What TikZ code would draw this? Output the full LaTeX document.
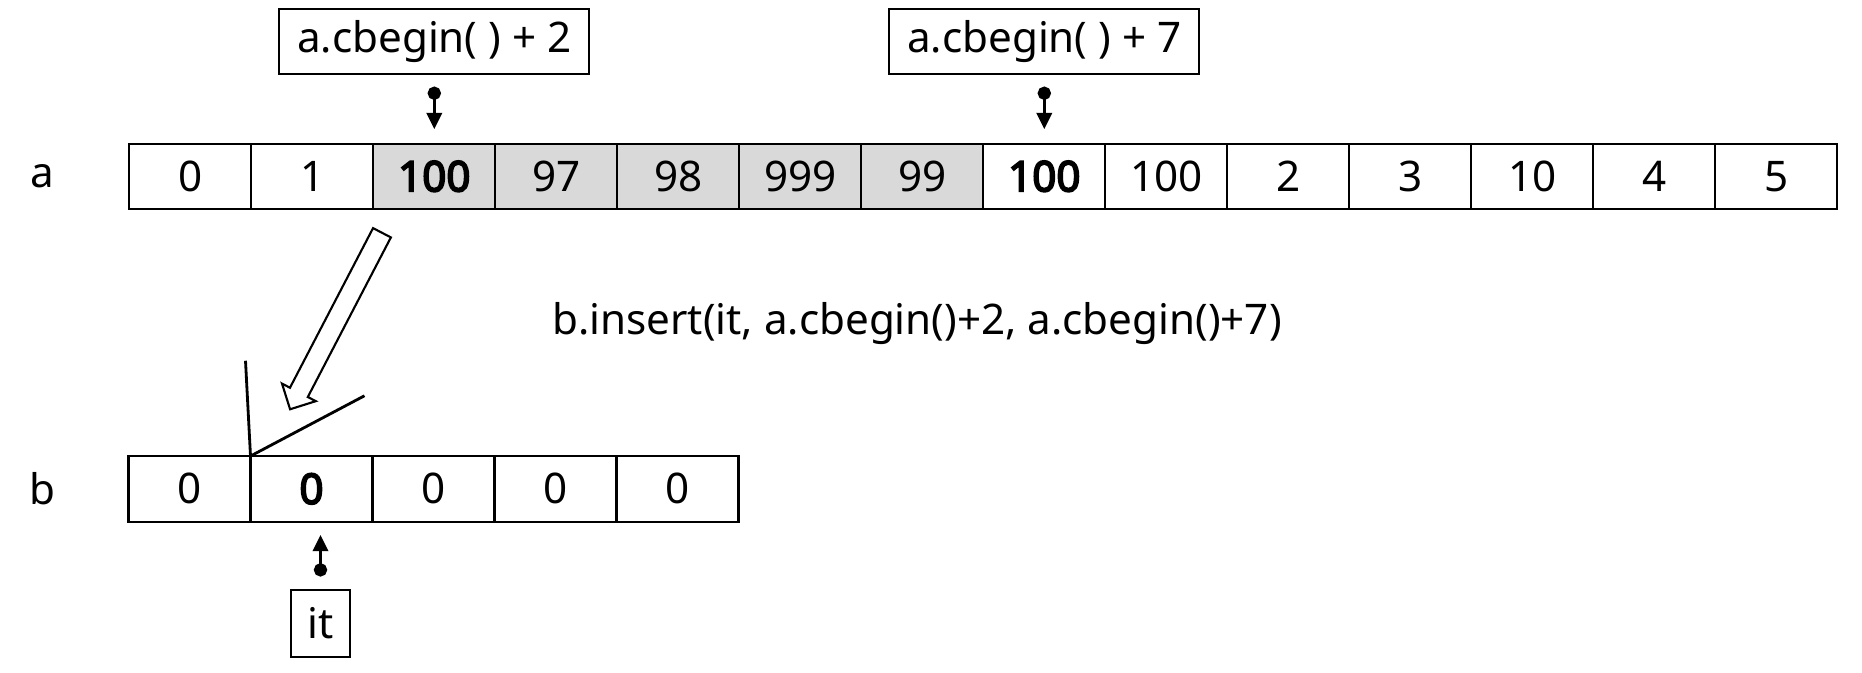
\documentclass[tikz,border=0pt]{standalone}
\usepackage{fontspec}
\setmainfont{Noto Sans}[AutoFakeBold=4]
\usetikzlibrary{positioning, arrows.meta, shapes.arrows, calc}
\tikzset{
    every node/.style={font=\fontsize{12}{14.5}\selectfont},
    node distance=1.22cm,
    cell/.style={draw, line width=0.6pt, minimum width=1.22cm, minimum height=0.655cm, inner sep=0pt, outer sep=0pt},
    marked/.style={cell, fill=gray!30},
    tag/.style={draw, line width=0.6pt, minimum width=3.1cm, minimum height=0.65cm, inner sep=0pt, outer sep=0pt},
    pin/.style={line width=0.7pt, {Circle[length=3.8pt]}-{Triangle[length=4.6pt, width=4.4pt]}},
    wedge/.style={line width=0.8pt},
    hollow/.style={draw, line width=0.6pt, single arrow, single arrow head extend=0.09cm, inner sep=0.09cm, minimum height=1.99cm, outer sep=0pt}
}
\begin{document}
\begin{tikzpicture}
    \useasboundingbox (0,0) rectangle (18.62,-6.72);

    % array a
    \node (la) at (0.427,-1.763) {a};
    \node[cell] (a0) at (1.903,-1.763) {0};
    \node[cell, right of=a0] (a1) {1};
    \node[marked, right of=a1] (a2) {\textbf{100}};
    \node[marked, right of=a2] (a3) {97};
    \node[marked, right of=a3] (a4) {98};
    \node[marked, right of=a4] (a5) {999};
    \node[marked, right of=a5] (a6) {99};
    \node[cell, right of=a6] (a7) {\textbf{100}};
    \node[cell, right of=a7] (a8) {100};
    \node[cell, right of=a8] (a9) {2};
    \node[cell, right of=a9] (a10) {3};
    \node[cell, right of=a10] (a11) {10};
    \node[cell, right of=a11] (a12) {4};
    \node[cell, right of=a12] (a13) {5};

    % array b
    \node (lb) at (0.427,-4.888) {b};
    \node[cell] (b0) at (1.895,-4.888) {0};
    \node[cell, right of=b0] (b1) {\textbf{0}};
    \node[cell, right of=b1] (b2) {0};
    \node[cell, right of=b2] (b3) {0};
    \node[cell, right of=b3] (b4) {0};

    % iterators
    \node[tag, above=0.695cm of a2] (first) {a.cbegin( ) + 2};
    \node[tag, above=0.695cm of a7] (last) {a.cbegin( ) + 7};
    \node[tag, minimum width=0.586cm, minimum height=0.667cm, below=0.685cm of b1, xshift=0.09cm] (it) {it};

    \draw[pin, shorten <=0.125cm, shorten >=0.145cm] (first.south) -- (first.south |- a2.north);
    \draw[pin, shorten <=0.125cm, shorten >=0.145cm] (last.south) -- (last.south |- a7.north);
    \draw[pin, shorten <=0.135cm, shorten >=0.135cm] (it.north) -- (it.north |- b1.south);

    \node (call) at (9.17,-3.24) {b.insert(it, a.cbegin()+2, a.cbegin()+7)};

    % insertion
    \coordinate (tail) at ($(a2.south west)+(0.112,-0.19)$);
    \coordinate (tip) at ($(b1.north west)+(0.417,0.51)$);
    \node[hollow, rotate=242.5] (move) at ($(tail)!0.5!(tip)$) {};
    \draw[wedge] (b1.north west) -- ++(-0.05,0.953);
    \draw[wedge] (b1.north west) -- ++(1.14,0.603);
\end{tikzpicture}
\end{document}
